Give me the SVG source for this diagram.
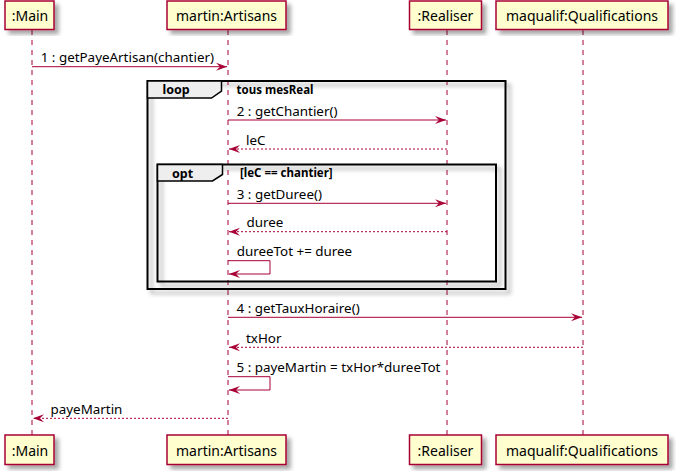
<svg xmlns="http://www.w3.org/2000/svg" width="676" height="472" viewBox="0 0 676 472">
<defs>
<filter id="sh" x="-10%" y="-10%" width="130%" height="130%">
<feDropShadow dx="4" dy="4" stdDeviation="2" flood-color="#000" flood-opacity="0.35"/>
</filter>
<marker id="ah" viewBox="0 0 12 10" refX="11" refY="5" markerWidth="12" markerHeight="10" markerUnits="userSpaceOnUse" orient="auto">
<polygon points="0,1 11,5 0,9 4,5" fill="#A80036"/>
</marker>
</defs>
<style>
.pbox{fill:#FEFECE;stroke:#A80036;stroke-width:1.5}
.pt{font-family:"Noto Sans","DejaVu Sans",sans-serif;font-size:14px;fill:#000;text-anchor:middle}
.life{stroke:#A80036;stroke-width:1;stroke-dasharray:5,5;fill:none}
.msg{stroke:#A80036;stroke-width:1;fill:none}
.ret{stroke:#A80036;stroke-width:1;stroke-dasharray:2,2;fill:none}
.mt{font-family:"Noto Sans","DejaVu Sans",sans-serif;font-size:13.4px;fill:#000}
.frame{fill:none;stroke:#000;stroke-width:2}
.tab{fill:#EEEEEE;stroke:#000;stroke-width:1.5}
.ft{font-family:"Noto Sans","DejaVu Sans",sans-serif;font-weight:bold;font-size:12.5px;fill:#000}
.fc{font-family:"Noto Sans","DejaVu Sans",sans-serif;font-weight:bold;font-size:11.5px;fill:#000}
</style>
<g id="lifelines">
<line class="life" x1="32" y1="30" x2="32" y2="435"/>
<line class="life" x1="228" y1="30" x2="228" y2="435"/>
<line class="life" x1="447" y1="30" x2="447" y2="435"/>
<line class="life" x1="583" y1="30" x2="583" y2="435"/>
</g>
<g id="loop">
<rect class="frame" x="147.5" y="81" width="358" height="208" filter="url(#sh)"/>
<polygon class="tab" points="147.5,81 221.5,81 221.5,91 211.5,98 147.5,98"/>
<text class="ft" x="162.5" y="94">loop</text>
<text class="fc" x="236.5" y="94">tous mesReal</text>
</g>
<g id="opt">
<rect class="frame" x="157.5" y="164.5" width="338.5" height="117" filter="url(#sh)"/>
<polygon class="tab" points="157.5,164.5 222.5,164.5 222.5,174.5 212.5,181 157.5,181"/>
<text class="ft" x="172" y="177.5">opt</text>
<text class="fc" x="240" y="177">[leC == chantier]</text>
</g>
<g id="p-main-top"><rect class="pbox" x="5" y="1" width="49" height="28.5" filter="url(#sh)"/><text class="pt" x="30" y="21">:Main</text></g>
<g id="p-martin-top"><rect class="pbox" x="167" y="1" width="119" height="28.5" filter="url(#sh)"/><text class="pt" x="226.5" y="21">martin:Artisans</text></g>
<g id="p-realiser-top"><rect class="pbox" x="409.5" y="1" width="72" height="28.5" filter="url(#sh)"/><text class="pt" x="445.5" y="21">:Realiser</text></g>
<g id="p-qualif-top"><rect class="pbox" x="496" y="1" width="172" height="28.5" filter="url(#sh)"/><text class="pt" x="582" y="21">maqualif:Qualifications</text></g>
<g id="p-main-bottom"><rect class="pbox" x="5" y="435" width="49" height="29.5" filter="url(#sh)"/><text class="pt" x="30" y="456">:Main</text></g>
<g id="p-martin-bottom"><rect class="pbox" x="167" y="435" width="119" height="29.5" filter="url(#sh)"/><text class="pt" x="226.5" y="456">martin:Artisans</text></g>
<g id="p-realiser-bottom"><rect class="pbox" x="409.5" y="435" width="72" height="29.5" filter="url(#sh)"/><text class="pt" x="445.5" y="456">:Realiser</text></g>
<g id="p-qualif-bottom"><rect class="pbox" x="496" y="435" width="172" height="29.5" filter="url(#sh)"/><text class="pt" x="582" y="456">maqualif:Qualifications</text></g>
<g id="connectors">
<line class="msg" x1="32" y1="66.7" x2="227" y2="66.7" marker-end="url(#ah)"/>
<text class="mt" x="40.7" y="62.2">1 : getPayeArtisan(chantier)</text>
<line class="msg" x1="228" y1="120" x2="446" y2="120" marker-end="url(#ah)"/>
<text class="mt" x="236.7" y="115.5">2 : getChantier()</text>
<line class="ret" x1="447" y1="149" x2="229" y2="149" marker-end="url(#ah)"/>
<text class="mt" x="246" y="144.5">leC</text>
<line class="msg" x1="228" y1="203.3" x2="446" y2="203.3" marker-end="url(#ah)"/>
<text class="mt" x="236.7" y="198.8">3 : getDuree()</text>
<line class="ret" x1="447" y1="231.7" x2="229" y2="231.7" marker-end="url(#ah)"/>
<text class="mt" x="246.5" y="227.2">duree</text>
<polyline class="msg" points="228,260.7 270,260.7 270,274 229,274" marker-end="url(#ah)"/>
<text class="mt" x="236.7" y="256.2">dureeTot += duree</text>
<line class="msg" x1="228" y1="317.3" x2="582" y2="317.3" marker-end="url(#ah)"/>
<text class="mt" x="236.5" y="312.8">4 : getTauxHoraire()</text>
<line class="ret" x1="583" y1="347.3" x2="229" y2="347.3" marker-end="url(#ah)"/>
<text class="mt" x="246" y="342.8">txHor</text>
<polyline class="msg" points="228,376.7 270,376.7 270,390 229,390" marker-end="url(#ah)"/>
<text class="mt" x="236.5" y="372.2">5 : payeMartin = txHor*dureeTot</text>
<line class="ret" x1="228" y1="418.3" x2="33" y2="418.3" marker-end="url(#ah)"/>
<text class="mt" x="50.5" y="413.8">payeMartin</text>
</g>
</svg>
